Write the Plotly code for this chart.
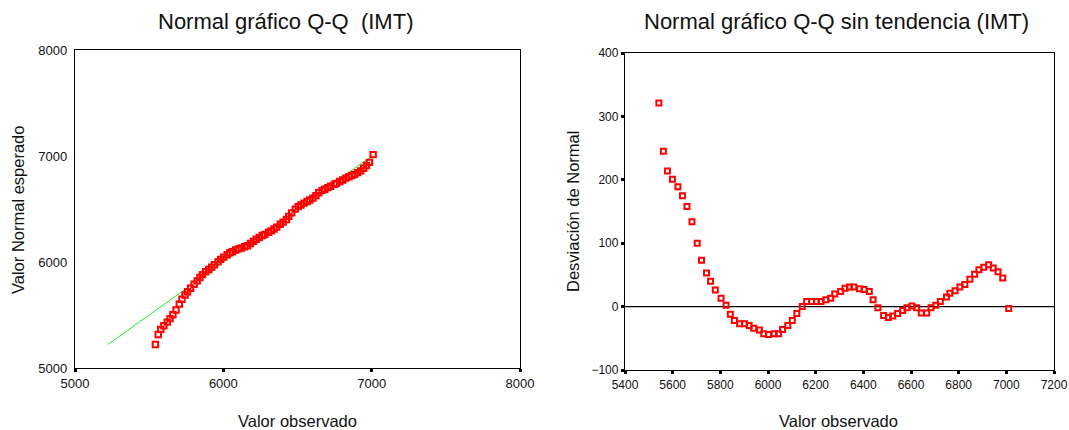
import plotly.graph_objects as go

observed = [5542, 5561, 5578, 5599, 5622, 5641, 5660, 5681, 5703, 5721,
            5742, 5759, 5779, 5803, 5824, 5842, 5859, 5881, 5902, 5921,
            5940, 5964, 5982, 6002, 6026, 6044, 6061, 6083, 6102, 6121,
            6144, 6162, 6183, 6203, 6222, 6243, 6263, 6280, 6305, 6323,
            6342, 6360, 6384, 6403, 6425, 6441, 6461, 6485, 6505, 6523,
            6544, 6565, 6583, 6604, 6624, 6643, 6666, 6684, 6704, 6723,
            6749, 6763, 6785, 6805, 6826, 6847, 6867, 6885, 6905, 6926,
            6945, 6965, 6985, 7010]
deviation = [321, 245, 214, 201, 189, 175, 158, 134, 100, 73,
             53, 40, 26, 13, 2, -12, -22, -27, -27, -30,
             -34, -37, -43, -44, -43, -43, -36, -30, -22, -11,
             0, 8, 8, 8, 8, 11, 13, 20, 24, 29,
             31, 31, 28, 27, 24, 11, -2, -14, -17, -15,
             -11, -6, -2, 1, -2, -10, -10, -2, 2, 8,
             15, 21, 25, 31, 35, 43, 51, 58, 62, 66,
             61, 55, 45, -3]
expected = [5221, 5316, 5364, 5398, 5433, 5466, 5502, 5547, 5603, 5648,
            5689, 5719, 5753, 5790, 5822, 5854, 5881, 5908, 5929, 5951,
            5974, 6001, 6025, 6046, 6069, 6087, 6097, 6113, 6124, 6132,
            6144, 6154, 6175, 6195, 6214, 6232, 6250, 6260, 6281, 6294,
            6311, 6329, 6356, 6376, 6401, 6430, 6463, 6499, 6522, 6538,
            6555, 6571, 6585, 6603, 6626, 6653, 6676, 6686, 6702, 6715,
            6734, 6742, 6760, 6774, 6791, 6804, 6816, 6827, 6843, 6860,
            6884, 6910, 6940, 7013]
ref_line = [5221, 7005]

left_xticks = [5000, 6000, 7000, 8000]
left_yticks = [5000, 6000, 7000, 8000]
right_xticks = [5400, 5600, 5800, 6000, 6200, 6400, 6600, 6800, 7000, 7200]
right_yticks = [-100, 0, 100, 200, 300, 400]

FONT = "Liberation Sans, Arial, sans-serif"
W, H = 1069, 430

fig = go.Figure()

fig.add_trace(go.Scatter(x=ref_line, y=ref_line, mode="lines",
                         line=dict(color="#22ee22", width=1),
                         xaxis="x", yaxis="y", showlegend=False))
fig.add_trace(go.Scatter(x=observed, y=expected, mode="markers",
                         marker=dict(symbol="square-open", size=5.4, color="#ff0000",
                                     line=dict(color="#ff0000", width=2)),
                         xaxis="x", yaxis="y", showlegend=False))
fig.add_trace(go.Scatter(x=[5400, 7200], y=[0, 0], mode="lines",
                         line=dict(color="black", width=1.3),
                         xaxis="x2", yaxis="y2", showlegend=False))
fig.add_trace(go.Scatter(x=observed, y=deviation, mode="markers",
                         marker=dict(symbol="square-open", size=5, color="#ff0000",
                                     line=dict(color="#ff0000", width=2)),
                         xaxis="x2", yaxis="y2", showlegend=False))

def px_x(p):
    return p / W

def px_y(p):
    return 1 - p / H

common = dict(showgrid=False, zeroline=False, showline=True, linecolor="black",
              linewidth=1.3, mirror=True, ticks="outside", ticklen=3, tickwidth=3,
              tickcolor="black", automargin=False)

fig.update_layout(
    width=W, height=H, margin=dict(l=0, r=0, t=0, b=0, autoexpand=False),
    paper_bgcolor="white", plot_bgcolor="white",
    font=dict(family=FONT, color="#111"),
    xaxis=dict(domain=[px_x(75), px_x(520)], range=[5000, 8000], tickvals=left_xticks,
               anchor="y", tickfont=dict(size=13), **common),
    yaxis=dict(domain=[px_y(368), px_y(50)], range=[5000, 8000], tickvals=left_yticks,
               anchor="x", tickfont=dict(size=13),
               **{**common, "tickcolor": "rgba(0,0,0,0)", "ticklen": 4}),
    xaxis2=dict(domain=[px_x(625), px_x(1054)], range=[5400, 7200], tickvals=right_xticks,
                anchor="y2", tickfont=dict(size=12), **common),
    yaxis2=dict(domain=[px_y(370), px_y(53)], range=[-100, 400], tickvals=right_yticks,
                anchor="x2", tickfont=dict(size=12), **common),
)

ann = [
    dict(text="Normal gráfico Q-Q\u00a0\u00a0(IMT)", x=px_x(285), y=px_y(22), size=22, angle=0),
    dict(text="Normal gráfico Q-Q sin tendencia (IMT)", x=px_x(836), y=px_y(22), size=22, angle=0),
    dict(text="Valor observado", x=px_x(297.5), y=px_y(421), size=16.5, angle=0),
    dict(text="Valor observado", x=px_x(838.5), y=px_y(421), size=16.5, angle=0),
    dict(text="Valor Normal esperado", x=px_x(18), y=px_y(210), size=16.5, angle=-90),
    dict(text="Desviación de Normal", x=px_x(573), y=px_y(212), size=16.5, angle=-90),
]
for a in ann:
    fig.add_annotation(text=a["text"], x=a["x"], y=a["y"], xref="paper", yref="paper",
                       xanchor="center", yanchor="middle", showarrow=False,
                       textangle=a["angle"], font=dict(size=a["size"], family=FONT, color="#111"))

fig.write_html("out.html")
